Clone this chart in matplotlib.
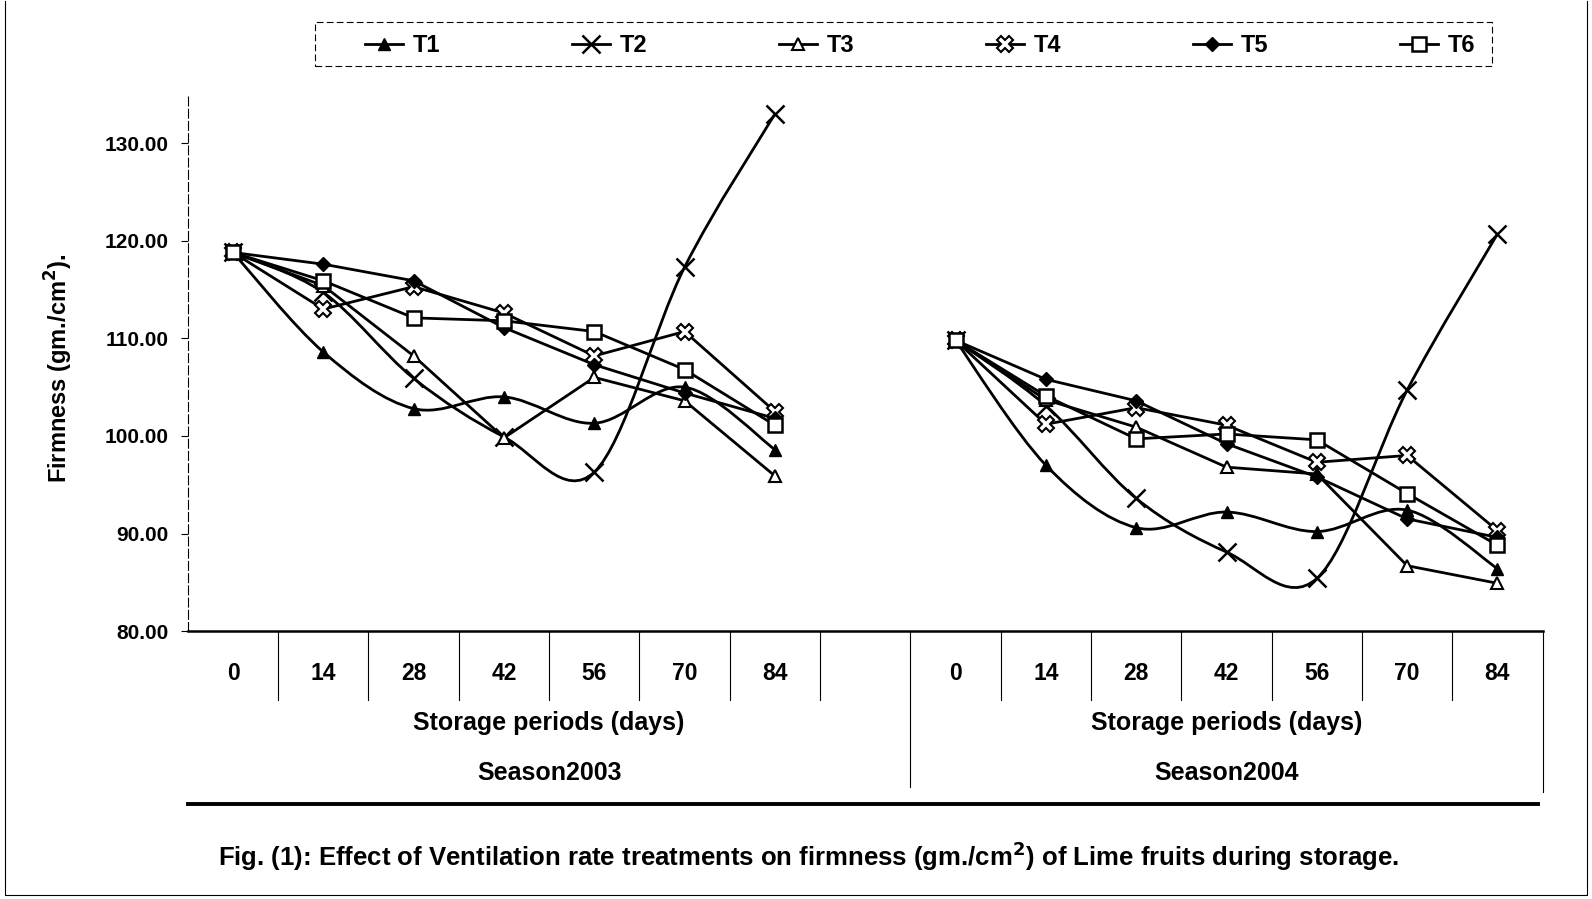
import matplotlib.pyplot as plt
import matplotlib.transforms as mtransforms
from matplotlib.lines import Line2D
from matplotlib.path import Path
from matplotlib.patches import PathPatch, Rectangle

plt.rcParams['font.family'] = ['Liberation Sans', 'DejaVu Sans']
plt.rcParams['font.weight'] = 'bold'

days = [0, 14, 28, 42, 56, 70, 84]
seasons = ['Season2003', 'Season2004']
treatments = ['T1', 'T2', 'T3', 'T4', 'T5', 'T6']

# firmness (gm./cm2)
t1_2003 = [118.8, 108.6, 102.8, 104.0, 101.3, 105.0, 98.6]
t2_2003 = [118.8, 114.7, 105.9, 99.9, 96.3, 117.3, 133.0]
t3_2003 = [118.8, 115.4, 108.2, 99.8, 106.0, 103.6, 95.9]
t4_2003 = [118.8, 113.0, 115.3, 112.6, 108.2, 110.7, 102.5]
t5_2003 = [118.8, 117.6, 115.9, 111.1, 107.3, 104.4, 101.8]
t6_2003 = [118.8, 115.9, 112.1, 111.8, 110.7, 106.8, 101.1]

t1_2004 = [109.8, 97.0, 90.6, 92.2, 90.2, 92.4, 86.4]
t2_2004 = [109.8, 103.1, 93.6, 88.1, 85.4, 104.7, 120.7]
t3_2004 = [109.8, 103.7, 100.9, 96.8, 96.1, 86.7, 84.9]
t4_2004 = [109.8, 101.2, 102.9, 101.1, 97.3, 98.0, 90.3]
t5_2004 = [109.8, 105.8, 103.6, 99.2, 95.8, 91.5, 89.6]
t6_2004 = [109.8, 104.1, 99.7, 100.2, 99.6, 94.1, 88.8]

data_2003 = [t1_2003, t2_2003, t3_2003, t4_2003, t5_2003, t6_2003]
data_2004 = [t1_2004, t2_2004, t3_2004, t4_2004, t5_2004, t6_2004]

# marker styles like the old excel chart
styles = {
    'T1': dict(marker='^', mfc='black', ms=9),
    'T2': dict(marker='x', mfc='none', ms=13, mew=1.8),
    'T3': dict(marker='^', mfc='white', ms=9, mew=1.5),
    'T4': dict(marker='X', mfc='white', ms=11, mew=1.5),
    'T5': dict(marker='D', mfc='black', ms=7),
    'T6': dict(marker='s', mfc='white', ms=10, mew=1.8),
}
smoothed = {'T1', 'T2'}
LW = 2.0


def smooth_path(xs, ys):
    # excel style smoothed line (catmull-rom as cubic beziers)
    n = len(xs)
    verts = [(xs[0], ys[0])]
    codes = [Path.MOVETO]
    for i in range(n - 1):
        a, b = max(i - 1, 0), min(i + 2, n - 1)
        c1 = (xs[i] + (xs[i + 1] - xs[a]) / 6, ys[i] + (ys[i + 1] - ys[a]) / 6)
        c2 = (xs[i + 1] - (xs[b] - xs[i]) / 6, ys[i + 1] - (ys[b] - ys[i]) / 6)
        verts += [c1, c2, (xs[i + 1], ys[i + 1])]
        codes += [Path.CURVE4] * 3
    return Path(verts, codes)


fig = plt.figure(figsize=(15.92, 8.99), dpi=100)
ax = fig.add_axes([0.118, 0.298, 0.851, 0.597])

for k, season_data in enumerate([data_2003, data_2004]):
    xs = [i + 8 * k for i in range(len(days))]
    for name, ys in zip(treatments, season_data):
        st = styles[name]
        if name in smoothed:
            ax.add_patch(PathPatch(smooth_path(xs, ys), fc='none', ec='black', lw=LW, zorder=2))
            ax.plot(xs, ys, ls='none', color='black', mec='black', zorder=3, **st)
        else:
            ax.plot(xs, ys, color='black', lw=LW, mec='black', zorder=3, **st)

ax.set_xlim(-0.5, 14.5)
ax.set_ylim(80, 135)
ax.set_yticks([80, 90, 100, 110, 120, 130])
ax.set_yticklabels([f'{v:.2f}' for v in [80, 90, 100, 110, 120, 130]], fontsize=15, fontweight='bold')
ax.set_xticks(range(15))
ax.set_xticklabels([str(d) for d in days] + [''] + [str(d) for d in days], fontsize=16.5, fontweight='bold')
ax.tick_params(axis='x', length=0, pad=22)
ax.tick_params(axis='y', length=5, direction='out', pad=9)
for s in ['top', 'right']:
    ax.spines[s].set_visible(False)
ax.spines['bottom'].set_linewidth(1.8)
ax.spines['left'].set_linewidth(0.8)
ax.spines['left'].set_linestyle((0, (8, 3)))

# category table under the axis
trans = mtransforms.blended_transform_factory(ax.transData, ax.transAxes)
for i in range(14):
    bottom = -0.29 if i == 7 else -0.128
    ax.plot([i + 0.5, i + 0.5], [0, bottom], color='black', lw=0.8, transform=trans, clip_on=False)
ax.plot([14.5, 14.5], [0, -0.3], color='black', lw=0.8, transform=trans, clip_on=False)
ax.plot([-0.5, 14.45], [-0.322, -0.322], color='black', lw=2.8, transform=trans, clip_on=False)
for center, season in zip([3.5, 11], seasons):
    ax.text(center, -0.171, 'Storage periods (days)', transform=trans, ha='center', va='center',
            fontsize=18, fontweight='bold')
    ax.text(center, -0.264, season, transform=trans, ha='center', va='center',
            fontsize=18, fontweight='bold')

fig.text(0.037, 0.59, 'Firmness (gm./cm$^\\mathbf{2}$).', rotation=90, ha='center', va='center',
         fontsize=17, fontweight='bold')
fig.text(0.508, 0.048,
         'Fig. (1): Effect of Ventilation rate treatments on firmness (gm./cm$^\\mathbf{2}$) of Lime fruits during storage.',
         ha='center', va='center', fontsize=18.5, fontweight='bold')

handles = [Line2D([], [], color='black', lw=LW, mec='black', **styles[n]) for n in treatments]
leg = fig.legend(handles, treatments, loc='center', bbox_to_anchor=(0.578, 0.949),
                 ncol=6, frameon=False, fontsize=17, handlelength=1.6,
                 handletextpad=0.4, columnspacing=5.6)

# dashed box round the legend
fig.add_artist(Rectangle((0.198, 0.927), 0.739, 0.049, transform=fig.transFigure,
                         fc='none', ec='black', lw=0.8, ls=(0, (6, 3))))

# page border of the scan
fig.add_artist(Line2D([0.003, 0.003, 0.997, 0.997], [0.999, 0.004, 0.004, 0.999],
                      transform=fig.transFigure, color='black', lw=0.8))

fig.savefig('out.png', dpi=100)
